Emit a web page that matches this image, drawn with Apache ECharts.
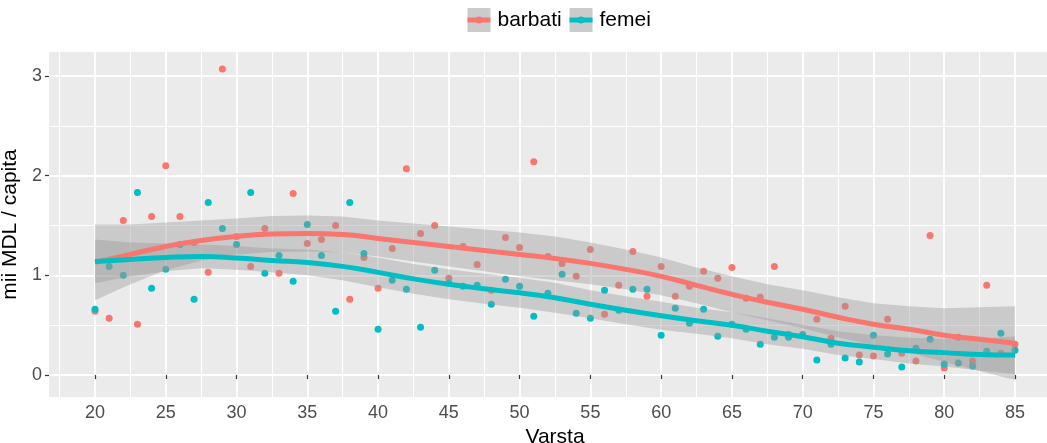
<!DOCTYPE html>
<html>
<head>
<meta charset="utf-8">
<script src="https://cdn.jsdelivr.net/npm/echarts@6/dist/echarts.min.js"></script>
<style>
  html, body { margin: 0; padding: 0; background: #ffffff; }
  #chart { width: 1047px; height: 443px; }
</style>
</head>
<body>
<div id="chart"></div>
<script>
// Ages (years) of the observations
const ages = [20,21,22,23,24,25,26,27,28,29,30,31,32,33,34,35,36,37,38,39,40,41,42,43,44,45,46,47,48,49,50,51,52,
              53,54,55,56,57,58,59,60,61,62,63,64,65,66,67,68,69,70,71,72,73,74,75,76,77,78,79,80,81,82,83,84,85];

// Observed values, thousands of MDL per capita
const barbati = [0.64,0.57,1.55,0.51,1.59,2.10,1.59,1.33,1.03,3.07,1.39,1.09,1.47,1.02,1.82,1.32,1.36,1.50,0.76,1.18,
                 0.87,1.27,2.07,1.42,1.50,0.97,1.29,1.11,0.85,1.38,1.28,2.14,1.19,1.12,0.99,1.26,0.61,0.90,1.24,0.79,
                 1.09,0.79,0.89,1.04,0.97,1.08,0.77,0.78,1.09,0.41,0.41,0.56,0.37,0.69,0.20,0.19,0.56,0.22,0.14,1.40,
                 0.07,0.38,0.14,0.90,0.22,0.31];
const femei   = [0.66,1.09,1.00,1.83,0.87,1.06,1.31,0.76,1.73,1.47,1.31,1.83,1.02,1.20,0.94,1.51,1.20,0.64,1.73,1.22,
                 0.46,0.95,0.86,0.48,1.05,0.92,0.89,0.90,0.71,0.96,0.89,0.59,0.82,1.01,0.62,0.57,0.85,0.65,0.86,0.86,
                 0.40,0.67,0.52,0.66,0.39,0.51,0.46,0.31,0.38,0.38,0.40,0.15,0.31,0.17,0.13,0.40,0.21,0.08,0.27,0.36,
                 0.11,0.12,0.09,0.24,0.42,0.25];

// Smoothed trend with its confidence band
const fitAges = [20,22.5,25,27.5,30,32.5,35,37.5,40,42.5,45,47.5,50,52.5,55,57.5,60,62.5,65,67.5,70,72.5,75,77.5,80,82.5,85];
const barbatiFit  = [1.13,1.21,1.29,1.35,1.39,1.415,1.42,1.41,1.37,1.33,1.29,1.25,1.21,1.17,1.12,1.06,0.99,0.90,0.81,0.73,0.66,0.58,0.51,0.46,0.40,0.36,0.32];
const barbatiLow  = [0.75,0.91,1.05,1.15,1.21,1.235,1.24,1.23,1.19,1.14,1.09,1.04,0.99,0.95,0.91,0.86,0.80,0.72,0.63,0.55,0.47,0.38,0.30,0.23,0.13,0.04,-0.05];
const barbatiHigh = [1.51,1.51,1.53,1.55,1.57,1.595,1.60,1.59,1.55,1.52,1.49,1.46,1.43,1.39,1.33,1.26,1.18,1.08,0.99,0.91,0.85,0.78,0.72,0.69,0.67,0.68,0.69];
const femeiFit    = [1.14,1.16,1.18,1.19,1.175,1.15,1.13,1.09,1.03,0.965,0.91,0.865,0.825,0.775,0.71,0.65,0.595,0.545,0.50,0.44,0.385,0.32,0.28,0.245,0.225,0.205,0.20];
const femeiLow    = [0.92,0.99,1.04,1.07,1.055,1.03,1.00,0.95,0.88,0.815,0.76,0.715,0.675,0.625,0.57,0.51,0.455,0.415,0.37,0.31,0.265,0.20,0.16,0.115,0.085,0.045,0.01];
const femeiHigh   = [1.36,1.33,1.32,1.31,1.295,1.27,1.26,1.23,1.18,1.115,1.06,1.015,0.975,0.925,0.85,0.79,0.735,0.675,0.63,0.57,0.505,0.44,0.40,0.375,0.365,0.365,0.39];

// Axis breaks
const xMajor = [20,25,30,35,40,45,50,55,60,65,70,75,80,85];
const xMinor = [17.5,22.5,27.5,32.5,37.5,42.5,47.5,52.5,57.5,62.5,67.5,72.5,77.5,82.5,87.5];
const yMajor = [0,1,2,3];
const yMinor = [0.5,1.5,2.5];

const RED = '#F8766D';
const CYAN = '#00BFC4';
const FONT = '"Liberation Sans", Arial, sans-serif';

const pairs = (xs, ys) => xs.map((x, i) => [x, ys[i]]);

function ribbon(low, high) {
  return function (params, api) {
    const pts = [];
    for (let i = 0; i < fitAges.length; i++) pts.push(api.coord([fitAges[i], high[i]]));
    for (let i = fitAges.length - 1; i >= 0; i--) pts.push(api.coord([fitAges[i], low[i]]));
    return { type: 'polygon', shape: { points: pts }, style: { fill: 'rgba(153,153,153,0.4)' }, silent: true };
  };
}

function legendKey(x, name, color) {
  return {
    type: 'group', left: x, top: 8,
    children: [
      { type: 'rect', shape: { x: 0, y: 0, width: 23, height: 24 }, style: { fill: '#CBCBCB' } },
      { type: 'line', shape: { x1: 0, y1: 12, x2: 23, y2: 12 }, style: { stroke: color, lineWidth: 5 } },
      { type: 'circle', shape: { cx: 11.5, cy: 12, r: 3.5 }, style: { fill: color } },
      { type: 'text', x: 30, y: 12, style: { text: name, fill: '#000', font: '21px ' + FONT, verticalAlign: 'middle' } }
    ]
  };
}

const hiddenAxisParts = {
  axisLine: { show: false }, axisTick: { show: false }, axisLabel: { show: false }
};

const chart = echarts.init(document.getElementById('chart'));
chart.setOption({
  animation: false,
  backgroundColor: '#ffffff',
  grid: { left: 49, top: 52, width: 1012, height: 345, show: true, backgroundColor: '#EBEBEB', borderWidth: 0,
          containLabel: false, outerBoundsMode: 'none' },
  graphic: [ legendKey(465, 'barbati', RED), legendKey(567, 'femei', CYAN) ],
  xAxis: [
    {
      type: 'value', min: 16.75, max: 88.25,
      name: 'Varsta', nameLocation: 'middle', nameGap: 25,
      nameTextStyle: { color: '#000', fontSize: 21, fontFamily: FONT },
      axisLine: { show: false },
      axisTick: { show: true, customValues: xMajor, length: 4, lineStyle: { color: '#333333', width: 1.2 } },
      axisLabel: { customValues: xMajor, color: '#4D4D4D', fontSize: 18, fontFamily: FONT, margin: 7 },
      splitLine: { show: true, lineStyle: { color: '#FFFFFF', width: 1.8 } }
    },
    Object.assign({
      type: 'value', min: 16.75, max: 88.25, position: 'bottom',
      splitLine: { show: true, lineStyle: { color: '#FFFFFF', width: 1 } }
    }, hiddenAxisParts, { axisTick: { show: false, customValues: xMinor } })
  ],
  yAxis: [
    {
      type: 'value', min: -0.22, max: 3.24,
      name: 'mii MDL / capita', nameLocation: 'middle', nameRotate: 90, nameGap: 24,
      nameTextStyle: { color: '#000', fontSize: 21, fontFamily: FONT },
      axisLine: { show: false },
      axisTick: { show: true, customValues: yMajor, length: 4, lineStyle: { color: '#333333', width: 1.2 } },
      axisLabel: { customValues: yMajor, color: '#4D4D4D', fontSize: 18, fontFamily: FONT, margin: 7 },
      splitLine: { show: true, lineStyle: { color: '#FFFFFF', width: 1.8 } }
    },
    Object.assign({
      type: 'value', min: -0.22, max: 3.24, position: 'left',
      splitLine: { show: true, lineStyle: { color: '#FFFFFF', width: 1 } }
    }, hiddenAxisParts, { axisTick: { show: false, customValues: yMinor } })
  ],
  series: [
    { name: 'barbati', type: 'scatter', data: pairs(ages, barbati), symbolSize: 7,
      itemStyle: { color: RED, opacity: 1 }, z: 2 },
    { name: 'femei', type: 'scatter', data: pairs(ages, femei), symbolSize: 7,
      itemStyle: { color: CYAN, opacity: 1 }, z: 2 },
    { name: 'barbati band', type: 'custom', data: [[50, 1]], renderItem: ribbon(barbatiLow, barbatiHigh), z: 3, silent: true },
    { name: 'femei band', type: 'custom', data: [[50, 1]], renderItem: ribbon(femeiLow, femeiHigh), z: 3, silent: true },
    { name: 'barbati trend', type: 'line', data: pairs(fitAges, barbatiFit), smooth: true, showSymbol: false,
      lineStyle: { color: RED, width: 5 }, z: 4, silent: true },
    { name: 'femei trend', type: 'line', data: pairs(fitAges, femeiFit), smooth: true, showSymbol: false,
      lineStyle: { color: CYAN, width: 5 }, z: 4, silent: true }
  ]
});
</script>
</body>
</html>
